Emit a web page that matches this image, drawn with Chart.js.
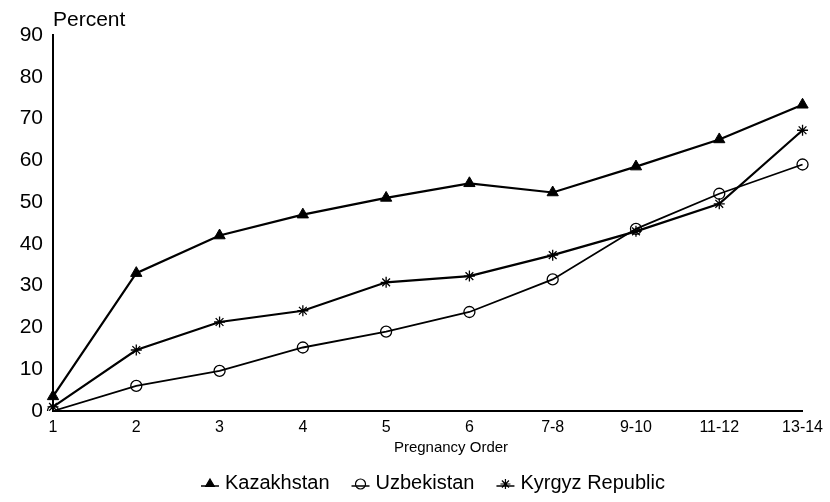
<!DOCTYPE html>
<html>
<head>
<meta charset="utf-8">
<script src="https://cdn.jsdelivr.net/npm/chart.js@4"></script>
<style>
  html, body { margin: 0; padding: 0; background: #fff; }
  #wrap { width: 830px; height: 502px; }
</style>
</head>
<body>
<div id="wrap"><canvas id="myChart" width="830" height="502"></canvas></div>
<script>
const categories = ["1", "2", "3", "4", "5", "6", "7-8", "9-10", "11-12", "13-14"];
const kazakhstan = [3.5, 33, 42, 47, 51, 54.5, 52.3, 58.5, 65, 73.3];
const uzbekistan = [0, 6, 9.6, 15.2, 19, 23.7, 31.5, 43.6, 52, 59];
const kyrgyz = [1, 14.6, 21.3, 24, 30.8, 32.3, 37.3, 43, 49.6, 67.2];
const yTicks = [0, 10, 20, 30, 40, 50, 60, 70, 80, 90];

const FONT = "'Liberation Sans', Arial, Helvetica, sans-serif";

// axis captions and the legend drawn as text on the canvas
const extras = {
    id: "extras",
    afterDraw(chart) {
        const c = chart.ctx;
        const area = chart.chartArea;
        c.save();
        c.fillStyle = "#000";
        c.textBaseline = "middle";

        c.font = "21px " + FONT;
        c.textAlign = "left";
        c.fillText("Percent", area.left, 20);

        c.font = "15px " + FONT;
        c.textAlign = "center";
        c.fillText("Pregnancy Order", 451, 448);

        c.font = "20px " + FONT;
        c.textAlign = "left";
        let x = 210;
        const y = 483;
        chart.data.datasets.forEach((ds) => {
            c.strokeStyle = "#000";
            c.lineWidth = 1.5;
            c.beginPath();
            c.moveTo(x - 9, y + 3);
            c.lineTo(x + 9, y + 3);
            c.stroke();
            c.fillStyle = ds.pointBackgroundColor;
            c.strokeStyle = "#000";
            c.lineWidth = 1.2;
            Chart.helpers.drawPoint(c, { pointStyle: ds.pointStyle, radius: 5, borderWidth: 1.2, rotation: 0 }, x, y + 1);
            c.fillStyle = "#000";
            c.fillText(ds.label, x + 15, y);
            x += 15 + c.measureText(ds.label).width + 31;
        });
        c.restore();
    }
};

const ctx = document.getElementById("myChart").getContext("2d");

const myChart = new Chart(ctx, {
    type: "line",
    data: {
        labels: categories,
        datasets: [
            {
                label: "Kazakhstan",
                data: kazakhstan,
                borderColor: "#000",
                borderWidth: 2.2,
                pointStyle: "triangle",
                pointRadius: 6.5,
                pointBackgroundColor: "#000",
                pointBorderColor: "#000",
                pointBorderWidth: 1,
                tension: 0,
            },
            {
                label: "Uzbekistan",
                data: uzbekistan,
                borderColor: "#000",
                borderWidth: 1.8,
                pointStyle: "circle",
                pointRadius: 5.5,
                pointBackgroundColor: "rgba(255,255,255,0)",
                pointBorderColor: "#000",
                pointBorderWidth: 1.3,
                tension: 0,
            },
            {
                label: "Kyrgyz Republic",
                data: kyrgyz,
                borderColor: "#000",
                borderWidth: 2.2,
                pointStyle: "star",
                pointRadius: 5.5,
                pointBackgroundColor: "#000",
                pointBorderColor: "#000",
                pointBorderWidth: 1.3,
                tension: 0,
            },
        ],
    },
    options: {
        responsive: false,
        animation: false,
        layout: {
            padding: { top: 35, right: 22, bottom: 0, left: 0 },
        },
        scales: {
            x: {
                offset: false,
                afterFit(scale) { scale.height = 91; },
                grid: { drawOnChartArea: false, drawTicks: false },
                border: { display: true, color: "#000", width: 2 },
                ticks: {
                    color: "#000",
                    padding: 7,
                    maxRotation: 0,
                    autoSkip: false,
                    font: { family: FONT, size: 16 },
                },
            },
            y: {
                min: 0,
                max: 90,
                afterFit(scale) { scale.width = 53; },
                afterBuildTicks(scale) { scale.ticks = yTicks.map((v) => ({ value: v })); },
                grid: { drawOnChartArea: false, drawTicks: false },
                border: { display: true, color: "#000", width: 2 },
                ticks: {
                    color: "#000",
                    padding: 10,
                    font: { family: FONT, size: 21 },
                },
            },
        },
        plugins: {
            legend: { display: false },
            tooltip: { enabled: false },
        },
    },
    plugins: [extras],
});
</script>
</body>
</html>
